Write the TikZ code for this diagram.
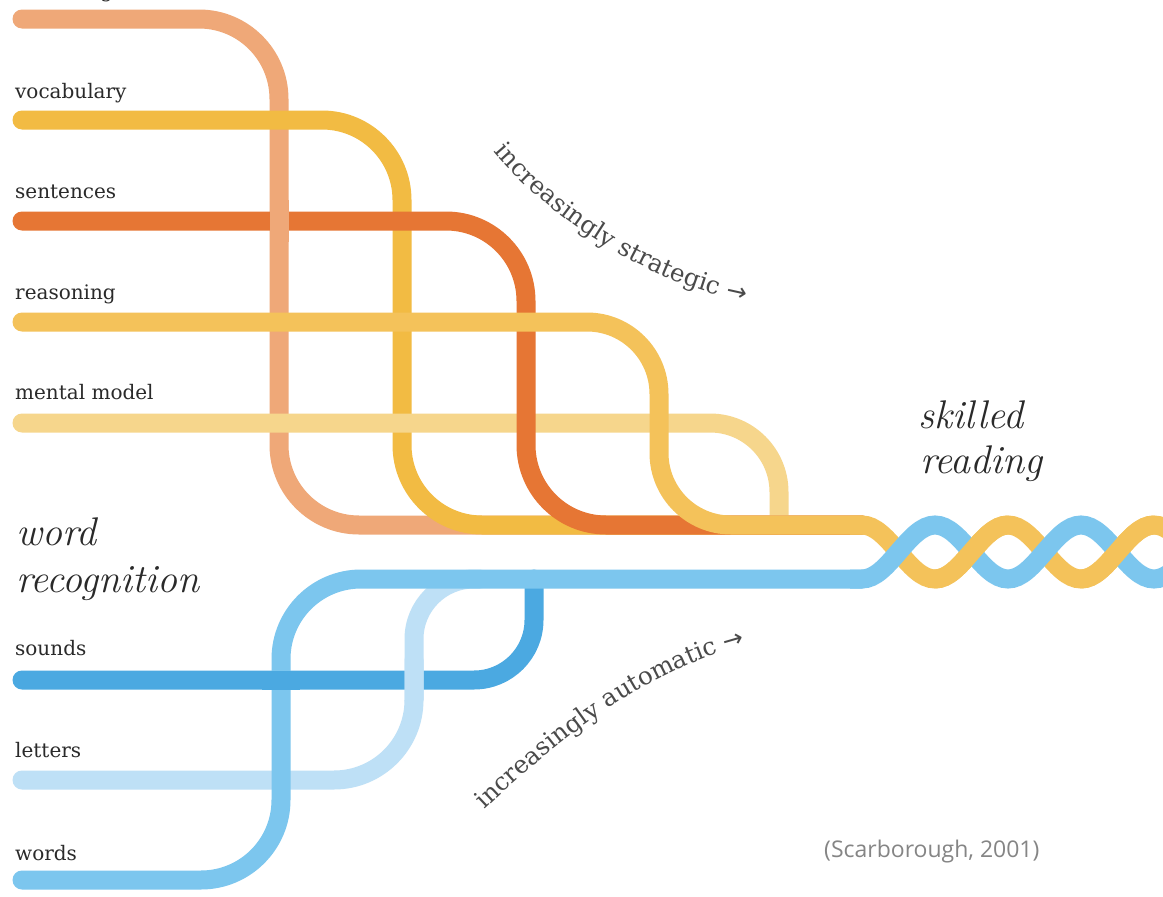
\documentclass[tikz,border=0pt]{standalone}
\usepackage{fontspec}
\newfontfamily\labelfont{DejaVu Serif}
\newfontfamily\citefont{Open Sans}
\newfontfamily\arrowfont{DejaVu Sans}
\usetikzlibrary{decorations.text}
\definecolor{knowc}{HTML}{EFA878}
\definecolor{vocc}{HTML}{F2BB43}
\definecolor{sentc}{HTML}{E67634}
\definecolor{reasc}{HTML}{F4C25A}
\definecolor{mentc}{HTML}{F6D68C}
\definecolor{wordsc}{HTML}{7CC6EE}
\definecolor{soundc}{HTML}{4BA9E1}
\definecolor{letc}{HTML}{BEE0F6}
\definecolor{labelc}{HTML}{2A2A2A}
\definecolor{slantc}{HTML}{4A4A4A}
\definecolor{citec}{HTML}{858585}
\tikzset{
  strand/.style={line width=19pt, line cap=round, line join=round},
  patch/.style={line width=19pt, line cap=butt},
  lbl/.style={font=\labelfont\fontsize{20}{24}\selectfont, text=labelc, inner sep=0pt, anchor=base west},
  biglbl/.style={font=\fontsize{40}{48}\selectfont\itshape, text=labelc, inner sep=0pt, anchor=base west},
}
\begin{document}
\begin{tikzpicture}[x=1pt,y=-1pt]
\useasboundingbox (0,0) rectangle (1163,897);
\fill[white] (0,0) rectangle (1163,897);
% ---------- language comprehension strands ----------
\draw[strand, knowc, rounded corners=80pt] (22,19) -| (279,525) -- (862,525);
\draw[strand, vocc, rounded corners=80pt] (22,120) -| (402,525) -- (862,525);
\draw[strand, mentc, rounded corners=69pt] (22,423) -| (779,525);
\draw[strand, sentc, rounded corners=80pt] (22,221) -| (526,525) -- (862,525);
\draw[strand, reasc, rounded corners=72pt] (22,322) -| (659,525) -- (862,525);
% weave patches
\draw[patch, knowc] (279,200) -- (279,242);
% ---------- word recognition strands ----------
\draw[strand, soundc, rounded corners=60pt] (22,680) -| (534,579);
\draw[strand, letc, rounded corners=80pt] (22,780) -- (414,780) -- (414,660);
\draw[strand, letc, rounded corners=60pt] (414,700) -- (414,579) -- (480,579);
\draw[strand, wordsc, rounded corners=80pt] (22,880) -| (281,579) -- (862,579);
\draw[patch, soundc] (262,680) -- (300,680);
% ---------- braid ----------
\draw[patch, reasc] (850,525) -- (862,525) cos (898.5,552) sin (935,579) cos (971.5,552) sin (1008,525) cos (1044.5,552) sin (1081,579) cos (1117.5,552) sin (1154,525) cos (1190.5,552);
\draw[patch, wordsc] (850,579) -- (862,579) cos (898.5,552) sin (935,525) cos (971.5,552) sin (1008,579) cos (1044.5,552) sin (1081,525) cos (1117.5,552) sin (1154,579) cos (1190.5,552);
\draw[patch, reasc] (935,579) cos (971.5,552) sin (1008,525);
\draw[patch, reasc] (1081,579) cos (1117.5,552) sin (1154,525);
% ---------- labels ----------
\node[lbl] (know) at (15,-3) {knowledge};
\node[lbl] (vocab) at (15,98) {vocabulary};
\node[lbl] (sent) at (15,198) {sentences};
\node[lbl] (reas) at (15,299) {reasoning};
\node[lbl] (ment) at (15,399) {mental model};
\node[lbl] (sound) at (15,655) {sounds};
\node[lbl] (lett) at (15,757) {letters};
\node[lbl] (words) at (15,860) {words};
\node[biglbl] (wr1) at (16,545) {word};
\node[biglbl] (wr2) at (16,592) {recognition};
\node[biglbl] (sr1) at (918,428) {skilled};
\node[biglbl] (sr2) at (920,473) {reading};
\node[font=\citefont\fontsize{23}{28}\selectfont, text=citec, inner sep=0pt, anchor=base west] (cite) at (824,857) {(Scarborough, 2001)};
% ---------- curved captions ----------
\path[decorate, decoration={text along path, text color=slantc, text align=center,
  text={|\labelfont\fontsize{24.5}{29}\selectfont|increasingly strategic |\arrowfont\fontsize{24.5}{29}\selectfont|→}}]
  (484,140) .. controls (556,232) and (672,292) .. (760,304);
\path[decorate, decoration={text along path, text color=slantc, text align=center,
  text={|\labelfont\fontsize{24.5}{29}\selectfont|increasingly automatic |\arrowfont\fontsize{24.5}{29}\selectfont|→}}]
  (476,818) .. controls (540,756) and (640,668) .. (757,642);
\end{tikzpicture}
\end{document}
